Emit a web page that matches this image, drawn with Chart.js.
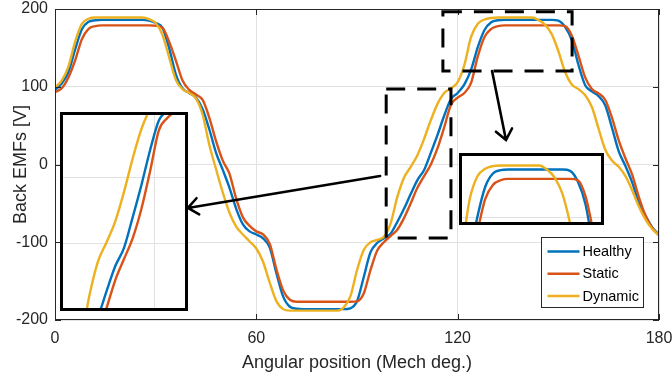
<!DOCTYPE html>
<html><head><meta charset="utf-8">
<script src="https://cdn.jsdelivr.net/npm/chart.js@4.4.1/dist/chart.umd.min.js"></script>
<style>
html,body{margin:0;padding:0;background:#fff;}
#wrap{position:relative;width:672px;height:378px;overflow:hidden;}
#main{position:absolute;left:0;top:0;display:block;}
.inset{position:absolute;border:3px solid #000;background:#fff;}
.inset canvas{display:block;}
</style></head><body>
<div id="wrap">
<canvas id="main" width="672" height="378"></canvas>
<div class="inset" style="left:60px;top:112px;width:122px;height:193px;"><canvas id="cL" width="122" height="193"></canvas></div>
<div class="inset" style="left:459px;top:153px;width:139px;height:66px;"><canvas id="cR" width="139" height="66"></canvas></div>
</div>
<script>
// ---- data (mechanical angle in degrees, back-EMF in volts) ----
const angles = [0,2,4,6,8,10,12,14,16,18,20,22,24,26,28,30,32,34,36,38,40,42,44,46,48,50,52,54,56,58,60,62,64,66,68,70,72,74,76,78,80,82,84,86,88,90,92,94,96,98,100,102,104,106,108,110,112,114,116,118,120,122,124,126,128,130,132,134,136,138,140,142,144,146,148,150,152,154,156,158,160,162,164,166,168,170,172,174,176,178,180];
const healthy = [96,104,119,148,174,183.5,185.5,186,186,186,
  186,186,186,186,185,182,176,150,116,98,
  92,86,71,45,15,-7,-30,-57,-77,-86,
  -90,-95,-107,-140,-170,-183,-185.5,-186,-186,-186,
  -186,-186,-186,-186,-185,-176,-145,-113,-101,-95,
  -89,-74,-57,-38,-20,-7,15,38,63,84,
  92,103,122,151,173,183,185.5,186,186,186,
  186,186,186,186,186,185,177,160,128,102,
  94,88,76,47,17,-2,-23,-49,-66,-81,
  -90];
const staticFault = [93,98,112,134,161,174.5,178,179,179,179,
  179,179,179,179,179,178.5,176,158,134,108,
  96,90,83,60,30,5,-12,-44,-68,-79,
  -86,-90,-102,-135,-162,-174,-176.5,-176.5,-176.5,-176.5,
  -176.5,-176.5,-176.5,-176.5,-176.5,-176,-166,-136,-111,-100,
  -92,-84,-69,-50,-30,-15,0,21,48,77,
  86,92,105,139,164,174.5,178,179,179,179,
  179,179,179,179,179,179,178,166,140,112,
  97,91.5,83,60,31,8,-13,-42,-66,-82,
  -91];
const dynamicFault = [99,108,126,158,181,187.5,189,189,189,189,
  189,189,189,189,187,182,167,138,109,97,
  92,85,64,25,-6,-36,-62,-80,-90,-99,
  -108,-125,-152,-176,-186,-188,-188,-188,-188,-188,
  -188,-188,-188,-184,-170,-136,-110,-100,-97,-93,
  -76,-42,-17,-3,12,33,57,78,92,98,
  106,128,164,181,186.5,188.5,189,189,189,189,
  189,189,186,180,168,146,119,103,97,89,
  74,46,19,5,-3,-15,-33,-54,-71,-83,
  -91];
const seriesNames = ['Healthy','Static','Dynamic'];
const xTickValues = [0,60,120,180];
const yTickValues = [-200,-100,0,100,200];
const xTitle = 'Angular position (Mech deg.)';
const yTitle = 'Back EMFs [V]';

// ---- styling ----
const seriesColors = ['#0072BD','#D95319','#EDB120'];
const seriesValues = [healthy, staticFault, dynamicFault];
const FONT = "'Liberation Sans', Arial, Helvetica, sans-serif";
const AXIS_COLOR = '#262626';
const GRID_COLOR = '#e2e2e2';
Chart.defaults.font.family = FONT;

function makeDatasets(width){
  return seriesValues.map((vals,i)=>({
    label: seriesNames[i],
    data: angles.map((a,j)=>({x:a, y:vals[j]})),
    borderColor: seriesColors[i],
    backgroundColor: seriesColors[i],
    borderWidth: width,
    pointRadius: 0,
    fill: false,
    cubicInterpolationMode: 'monotone',
    order: 2 - i
  }));
}

// annotation geometry (data units)
const zoomBoxes = [
  {x0: 98.7, x1: 118.0, y0: -94.5, y1: 97.1},
  {x0: 115.6, x1: 154.1, y0: 120.3, y1: 196.5}
];
const arrows = [
  {x0: 96.9, y0: -14.8, x1: 39.6, y1: -55.9},
  {x0: 130.25, y0: 120.3, x1: 134.4, y1: 31.5}
];

const decorPlugin = {
  id: 'decor',
  afterDraw(chart){
    const {ctx, chartArea: a, scales: {x, y}} = chart;
    ctx.save();
    // axes box
    ctx.strokeStyle = AXIS_COLOR; ctx.lineWidth = 1;
    ctx.strokeRect(Math.round(a.left)+0.5, Math.round(a.top)+0.5, Math.round(a.right-a.left)-1, Math.round(a.bottom-a.top)-1);
    // inward ticks
    ctx.beginPath();
    xTickValues.forEach(v=>{
      const px = Math.round(x.getPixelForValue(v))+0.5;
      ctx.moveTo(px, a.bottom); ctx.lineTo(px, a.bottom-6);
      ctx.moveTo(px, a.top); ctx.lineTo(px, a.top+6);
    });
    yTickValues.forEach(v=>{
      const py = Math.round(y.getPixelForValue(v))+0.5;
      ctx.moveTo(a.left, py); ctx.lineTo(a.left+6, py);
      ctx.moveTo(a.right, py); ctx.lineTo(a.right-6, py);
    });
    ctx.stroke();
    // dashed zoom boxes
    ctx.strokeStyle = '#000'; ctx.lineWidth = 3; ctx.setLineDash([19,12]);
    zoomBoxes.forEach(b=>{
      const l = x.getPixelForValue(b.x0), r = x.getPixelForValue(b.x1);
      const t = y.getPixelForValue(b.y1), bt = y.getPixelForValue(b.y0);
      ctx.strokeRect(l, t, r-l, bt-t);
    });
    ctx.setLineDash([]);
    // arrows
    ctx.lineWidth = 2.6; ctx.lineCap = 'round';
    arrows.forEach(ar=>{
      const sx = x.getPixelForValue(ar.x0), sy = y.getPixelForValue(ar.y0);
      const ex = x.getPixelForValue(ar.x1), ey = y.getPixelForValue(ar.y1);
      const ang = Math.atan2(ey-sy, ex-sx);
      const L = 13, spread = 0.68;
      ctx.beginPath();
      ctx.moveTo(sx, sy); ctx.lineTo(ex, ey);
      ctx.moveTo(ex - L*Math.cos(ang-spread), ey - L*Math.sin(ang-spread));
      ctx.lineTo(ex, ey);
      ctx.lineTo(ex - L*Math.cos(ang+spread), ey - L*Math.sin(ang+spread));
      ctx.stroke();
    });
    // legend
    const bw = 102, bh = 70;
    const bx = Math.round(a.right - 16 - bw) + 0.5, by = Math.round(a.bottom - 13 - bh) + 0.5;
    ctx.fillStyle = '#fff';
    ctx.fillRect(bx, by, bw, bh);
    ctx.strokeStyle = AXIS_COLOR; ctx.lineWidth = 1; ctx.lineCap = 'butt';
    ctx.strokeRect(bx, by, bw, bh);
    ctx.font = '14.5px ' + FONT;
    ctx.textBaseline = 'middle'; ctx.textAlign = 'left';
    chart.data.datasets.forEach((ds, i)=>{
      const ry = by + 14 + i*22.3;
      ctx.strokeStyle = ds.borderColor; ctx.lineWidth = 2.5;
      ctx.beginPath(); ctx.moveTo(bx+6, ry); ctx.lineTo(bx+38, ry); ctx.stroke();
      ctx.fillStyle = '#000';
      ctx.fillText(ds.label, bx+41, ry+0.5);
    });
    ctx.restore();
  }
};

new Chart(document.getElementById('main'), {
  type: 'line',
  data: { datasets: makeDatasets(2.4) },
  plugins: [decorPlugin],
  options: {
    responsive: false, animation: false, events: [],
    layout: { padding: { top: 9, right: 13, left: 0, bottom: 0 } },
    plugins: { legend: { display: false }, tooltip: { enabled: false } },
    scales: {
      x: {
        type: 'linear', min: 0, max: 180,
        afterBuildTicks: s => { s.ticks = xTickValues.map(v=>({value:v})); },
        afterFit: s => { s.height = 58; s.paddingLeft = 0; s.paddingRight = 0; },
        grid: { color: GRID_COLOR, drawTicks: false, lineWidth: 1 },
        border: { display: false },
        ticks: { color: AXIS_COLOR, font: { size: 16 }, padding: 9, maxRotation: 0, autoSkip: false, callback: v => String(v) },
        title: { display: true, text: xTitle, color: AXIS_COLOR, font: { size: 18 }, padding: { top: 0, bottom: 4 } }
      },
      y: {
        min: -200, max: 200,
        afterBuildTicks: s => { s.ticks = yTickValues.map(v=>({value:v})); },
        afterFit: s => { s.width = 55; s.paddingTop = 0; s.paddingBottom = 0; },
        grid: { color: GRID_COLOR, drawTicks: false, lineWidth: 1 },
        border: { display: false },
        ticks: { color: AXIS_COLOR, font: { size: 16 }, padding: 7, callback: v => String(v) },
        title: { display: true, text: yTitle, color: AXIS_COLOR, font: { size: 18 }, padding: { top: 10, bottom: 0 } }
      }
    }
  }
});

// ---- zoomed insets (same data, narrower axis ranges) ----
const insets = [
  {id: 'cL', xMin: 96, xMax: 124, yMin: -50, yMax: 88, gridX: [117], gridY: [-4, 43]},
  {id: 'cR', xMin: 122, xMax: 158, yMin: 147, yMax: 196, gridX: [], gridY: [150]}
];
insets.forEach(ins=>{
  const axis = (mn, mx, g, horiz) => ({
    type: 'linear', min: mn, max: mx,
    afterBuildTicks: s => { s.ticks = g.map(v=>({value:v})); },
    afterFit: s => { if (horiz) s.height = 0; else s.width = 0; s.paddingTop = s.paddingBottom = s.paddingLeft = s.paddingRight = 0; },
    grid: { color: GRID_COLOR, drawTicks: false, lineWidth: 1 },
    border: { display: false },
    ticks: { display: false }
  });
  new Chart(document.getElementById(ins.id), {
    type: 'line',
    data: { datasets: makeDatasets(2.4) },
    options: {
      responsive: false, animation: false, events: [],
      layout: { padding: 0 },
      plugins: { legend: { display: false }, tooltip: { enabled: false } },
      scales: { x: axis(ins.xMin, ins.xMax, ins.gridX, true), y: axis(ins.yMin, ins.yMax, ins.gridY, false) }
    }
  });
});
</script>
</body></html>
